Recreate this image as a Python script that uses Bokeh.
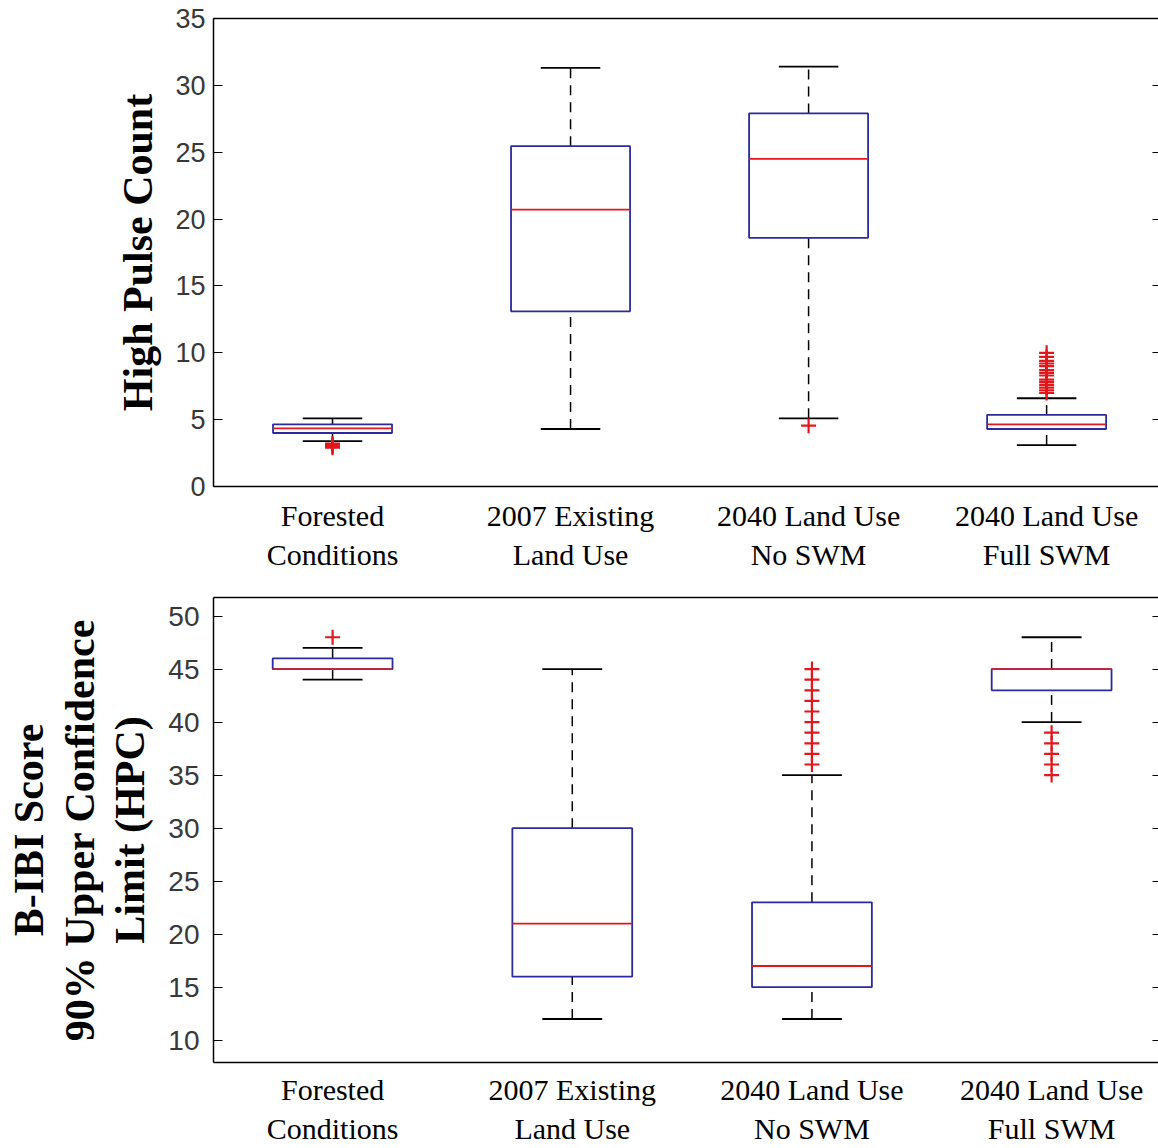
import numpy as np
from bokeh.plotting import figure
from bokeh.layouts import column
from bokeh.models import FixedTicker, Range1d, LinearAxis, CustomJSTickFormatter
from bokeh.embed import file_html
from bokeh.resources import INLINE

categories = ["Forested\nConditions", "2007 Existing\nLand Use",
              "2040 Land Use\nNo SWM", "2040 Land Use\nFull SWM"]
positions = [1, 2, 3, 4]

# High Pulse Count
hpc_lower = [3.4, 4.3, 5.1, 3.1]
hpc_q1 = [4.0, 13.1, 18.6, 4.3]
hpc_median = [4.35, 20.7, 24.5, 4.65]
hpc_q3 = [4.65, 25.45, 27.9, 5.35]
hpc_upper = [5.1, 31.3, 31.4, 6.6]
hpc_outliers = [[3.2, 3.1, 3.0, 2.9], [], [4.55],
                [7.0, 7.2, 7.4, 7.6, 7.8, 8.0, 8.3, 8.5, 8.7, 9.0,
                 9.2, 9.4, 9.7, 10.0]]
hpc_ticks = [0, 5, 10, 15, 20, 25, 30, 35]

# B-IBI Score 90% UCL
bibi_lower = [44, 12, 12, 40]
bibi_q1 = [45, 16, 15, 43]
bibi_median = [45, 21, 17, 45]
bibi_q3 = [46, 30, 23, 45]
bibi_upper = [47, 45, 35, 48]
bibi_outliers = [[48], [], [36, 37, 38, 39, 40, 41, 42, 43, 44, 45],
                 [35, 36, 37, 38, 39]]
bibi_ticks = [10, 15, 20, 25, 30, 35, 40, 45, 50]

BLUE = "#2b2b9e"
RED = "#e3161c"
BOX_HALF = 0.25
CAP_HALF = 0.125


def style(p, ticks, ylabel, tick_size, tick_standoff, label_standoff, x_standoff):
    p.xgrid.visible = False
    p.ygrid.visible = False
    p.background_fill_color = "white"
    p.border_fill_color = "white"
    p.outline_line_color = None
    p.xaxis.ticker = FixedTicker(ticks=positions)
    p.xaxis.major_label_overrides = {pos: lab for pos, lab in zip(positions, categories)}
    p.xaxis.major_tick_in = 0
    p.xaxis.major_tick_out = 0
    p.xaxis.minor_tick_line_color = None
    p.xaxis.axis_line_color = "black"
    p.xaxis.axis_line_width = 1.5
    p.xaxis.major_label_text_font = "Liberation Serif"
    p.xaxis.major_label_text_font_size = "30px"
    p.xaxis.major_label_text_color = "black"
    p.xaxis.major_label_text_line_height = 1.2
    p.xaxis.major_label_standoff = x_standoff
    p.yaxis.ticker = FixedTicker(ticks=ticks)
    p.yaxis.major_tick_in = 9
    p.yaxis.major_tick_out = 0
    p.yaxis.major_tick_line_color = "black"
    p.yaxis.minor_tick_line_color = None
    p.yaxis.axis_line_color = "black"
    p.yaxis.axis_line_width = 1.5
    p.yaxis.major_label_text_font = "Liberation Sans"
    p.yaxis.major_label_text_font_size = tick_size
    p.yaxis.major_label_text_color = "#383838"
    p.yaxis.major_label_standoff = tick_standoff
    p.yaxis.axis_label = ylabel
    p.yaxis.axis_label_text_font = "Liberation Serif"
    p.yaxis.axis_label_text_font_style = "bold"
    p.yaxis.axis_label_text_font_size = "42px"
    p.yaxis.axis_label_text_color = "black"
    p.yaxis.axis_label_text_line_height = 1.1
    p.yaxis.axis_label_standoff = label_standoff
    blank = CustomJSTickFormatter(code="return '';")
    # top frame line (no ticks, no labels)
    top = LinearAxis(ticker=FixedTicker(ticks=[]), major_tick_in=0, major_tick_out=0,
                     minor_tick_line_color=None, formatter=blank,
                     major_label_standoff=0, axis_line_color="black", axis_line_width=1.5)
    p.add_layout(top, "above")
    # right side: only inward ticks
    right = LinearAxis(ticker=FixedTicker(ticks=ticks), major_tick_in=6, major_tick_out=0,
                       minor_tick_line_color=None, formatter=blank,
                       major_label_standoff=0, axis_line_color=None,
                       major_tick_line_color="black")
    p.add_layout(right, "right")


def draw_boxes(p, lower, q1, med, q3, upper, outliers):
    x = np.array(positions, dtype=float)
    lower = np.array(lower, dtype=float)
    q1 = np.array(q1, dtype=float)
    med = np.array(med, dtype=float)
    q3 = np.array(q3, dtype=float)
    upper = np.array(upper, dtype=float)
    p.segment(x0=x, y0=q3, x1=x, y1=upper, line_color="black",
              line_width=1.5, line_dash="10 7")
    p.segment(x0=x, y0=lower, x1=x, y1=q1, line_color="black",
              line_width=1.5, line_dash="10 7")
    p.segment(x0=x - CAP_HALF, y0=upper, x1=x + CAP_HALF, y1=upper,
              line_color="black", line_width=1.8)
    p.segment(x0=x - CAP_HALF, y0=lower, x1=x + CAP_HALF, y1=lower,
              line_color="black", line_width=1.8)
    p.quad(left=x - BOX_HALF, right=x + BOX_HALF, bottom=q1, top=q3,
           fill_color=None, line_color=BLUE, line_width=1.8)
    p.segment(x0=x - BOX_HALF, y0=med, x1=x + BOX_HALF, y1=med,
              line_color=RED, line_width=1.8)
    ox = [pos for pos, vals in zip(positions, outliers) for _ in vals]
    oy = [v for vals in outliers for v in vals]
    p.scatter(x=ox, y=oy, marker="cross", size=15, line_color=RED,
              line_width=2.2)


p1 = figure(width=1158, height=580, output_backend="svg", toolbar_location=None,
            x_range=Range1d(0.5, 4.47), y_range=Range1d(0, 35),
            min_border_left=213, min_border_right=0, min_border_top=18,
            min_border_bottom=94)
style(p1, hpc_ticks, "High Pulse Count", "27px", 8, 11, 12)
draw_boxes(p1, hpc_lower, hpc_q1, hpc_median, hpc_q3, hpc_upper, hpc_outliers)

p2 = figure(width=1158, height=568, output_backend="svg", toolbar_location=None,
            x_range=Range1d(0.503, 4.446), y_range=Range1d(7.9, 51.75),
            min_border_left=213, min_border_right=0, min_border_top=17,
            min_border_bottom=82)
style(p2, bibi_ticks, "B-IBI Score\n90% Upper Confidence\nLimit (HPC)", "28px", 14, 12, 10)
draw_boxes(p2, bibi_lower, bibi_q1, bibi_median, bibi_q3, bibi_upper, bibi_outliers)

layout = column(p1, p2, spacing=0)
open("out.html", "w").write(file_html(layout, INLINE))
